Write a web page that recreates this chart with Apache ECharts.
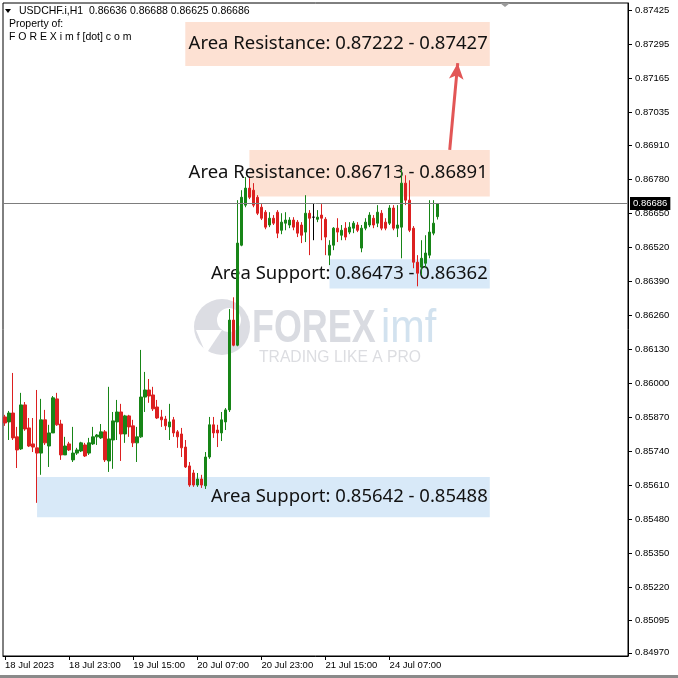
<!DOCTYPE html>
<html>
<head>
<meta charset="utf-8">
<script src="https://cdn.jsdelivr.net/npm/echarts@6/dist/echarts.min.js"></script>
<style>
  html, body { margin: 0; padding: 0; background: #fff; }
  #chart { width: 678px; height: 678px; }
</style>
</head>
<body>
<div id="chart"></div>
<script>
// ---- Data (USDCHF.i, H1) ----
// Each candle: [open, close, low, high]
const candles = [
  [0.85871,0.85848,0.85837,0.85879],[0.85852,0.85886,0.85783,0.85894],[0.85886,0.85791,0.85783,0.86039],
  [0.85795,0.85745,0.85676,0.85833],[0.85749,0.85917,0.85745,0.85963],[0.85917,0.85825,0.85818,0.85928],
  [0.85829,0.85760,0.85756,0.85867],[0.85768,0.85756,0.85737,0.85867],[0.85753,0.85733,0.85543,0.85974],
  [0.85733,0.85860,0.85650,0.85940],[0.85860,0.85772,0.85764,0.85898],[0.85760,0.85810,0.85680,0.85841],
  [0.85810,0.85944,0.85810,0.85951],[0.85940,0.85841,0.85837,0.85963],[0.85844,0.85726,0.85707,0.85860],
  [0.85726,0.85760,0.85726,0.85795],[0.85768,0.85745,0.85741,0.85776],[0.85707,0.85733,0.85699,0.85833],
  [0.85733,0.85745,0.85726,0.85753],[0.85741,0.85772,0.85737,0.85776],[0.85764,0.85722,0.85718,0.85772],
  [0.85733,0.85772,0.85726,0.85791],[0.85768,0.85795,0.85764,0.85833],[0.85795,0.85802,0.85764,0.85806],
  [0.85791,0.85814,0.85787,0.85844],[0.85814,0.85707,0.85699,0.85821],[0.85703,0.85787,0.85661,0.85986],
  [0.85783,0.85856,0.85673,0.85890],[0.85852,0.85890,0.85783,0.85936],[0.85890,0.85806,0.85703,0.85921],
  [0.85806,0.85875,0.85772,0.85879],[0.85875,0.85833,0.85795,0.85879],[0.85837,0.85772,0.85756,0.85860],
  [0.85772,0.85795,0.85699,0.85833],[0.85795,0.85947,0.85791,0.86127],[0.85947,0.85974,0.85890,0.86043],
  [0.85974,0.85951,0.85925,0.86016],[0.85955,0.85902,0.85894,0.85986],[0.85909,0.85867,0.85863,0.85936],
  [0.85871,0.85860,0.85833,0.85898],[0.85863,0.85837,0.85821,0.85875],[0.85833,0.85852,0.85783,0.85921],
  [0.85860,0.85810,0.85795,0.85871],[0.85814,0.85795,0.85753,0.85821],[0.85806,0.85753,0.85718,0.85829],
  [0.85756,0.85680,0.85676,0.85783],[0.85684,0.85611,0.85604,0.85699],[0.85657,0.85611,0.85604,0.85669],
  [0.85611,0.85634,0.85604,0.85657],[0.85634,0.85611,0.85600,0.85650],[0.85608,0.85718,0.85596,0.85737],
  [0.85718,0.85841,0.85711,0.85871],[0.85841,0.85810,0.85791,0.85871],[0.85821,0.85810,0.85756,0.85841],
  [0.85810,0.85860,0.85779,0.85890],[0.85852,0.85898,0.85821,0.85905],[0.85898,0.86241,0.85890,0.86283],
  [0.86241,0.86145,0.86141,0.86328],[0.86145,0.86535,0.86141,0.86699],[0.86527,0.86710,0.86523,0.86737],
  [0.86680,0.86745,0.86672,0.86787],[0.86745,0.86710,0.86703,0.86783],[0.86737,0.86680,0.86672,0.86764],
  [0.86710,0.86649,0.86642,0.86718],[0.86672,0.86630,0.86623,0.86684],[0.86653,0.86596,0.86588,0.86661],
  [0.86604,0.86630,0.86596,0.86653],[0.86630,0.86611,0.86604,0.86642],[0.86653,0.86573,0.86554,0.86661],
  [0.86584,0.86615,0.86569,0.86649],[0.86611,0.86623,0.86584,0.86653],[0.86604,0.86623,0.86592,0.86634],
  [0.86623,0.86596,0.86584,0.86634],[0.86615,0.86573,0.86558,0.86623],[0.86604,0.86565,0.86535,0.86615],
  [0.86577,0.86649,0.86539,0.86718],[0.86649,0.86630,0.86489,0.86661],[0.86634,0.86634,0.86546,0.86688],
  [0.86626,0.86634,0.86615,0.86661],[0.86642,0.86630,0.86546,0.86684],[0.86626,0.86558,0.86489,0.86634],
  [0.86489,0.86527,0.86451,0.86546],[0.86527,0.86592,0.86508,0.86596],[0.86592,0.86577,0.86539,0.86630],
  [0.86565,0.86584,0.86546,0.86604],[0.86592,0.86558,0.86546,0.86615],[0.86577,0.86596,0.86569,0.86615],
  [0.86592,0.86611,0.86573,0.86619],[0.86604,0.86584,0.86577,0.86615],[0.86516,0.86592,0.86500,0.86604],
  [0.86592,0.86615,0.86584,0.86630],[0.86604,0.86642,0.86596,0.86653],[0.86630,0.86604,0.86592,0.86642],
  [0.86611,0.86653,0.86596,0.86680],[0.86649,0.86592,0.86584,0.86661],[0.86615,0.86592,0.86584,0.86630],
  [0.86611,0.86669,0.86604,0.86680],[0.86669,0.86592,0.86584,0.86680],[0.86592,0.86604,0.86558,0.86680],
  [0.86596,0.86764,0.86477,0.86814],[0.86764,0.86699,0.86680,0.86794],[0.86699,0.86584,0.86577,0.86775],
  [0.86592,0.86462,0.86439,0.86600],[0.86462,0.86420,0.86370,0.86489],[0.86443,0.86477,0.86412,0.86546],
  [0.86458,0.86497,0.86439,0.86565],[0.86489,0.86577,0.86477,0.86699],[0.86573,0.86611,0.86565,0.86699],
  [0.86636,0.86686,0.86625,0.86688]
];

// Price-axis tick labels shown on the right
const priceTicks = [0.87425,0.87295,0.87165,0.87035,0.86910,0.86780,0.86650,0.86520,0.86390,0.86260,
                    0.86130,0.86000,0.85870,0.85740,0.85610,0.85480,0.85350,0.85220,0.85095,0.84970];
// Time-axis labels (every 16 bars)
const timeLabels = ['18 Jul 2023','18 Jul 23:00','19 Jul 15:00','20 Jul 07:00','20 Jul 23:00','21 Jul 15:00','24 Jul 07:00'];
const currentPrice = 0.86686;
const headerText = 'USDCHF.i,H1  0.86636 0.86688 0.86625 0.86686';

// Annotation zones
const zoneLabels = ['Area Resistance: 0.87222 - 0.87427','Area Resistance: 0.86713 - 0.86891',
                    'Area Support: 0.86473 - 0.86362','Area Support: 0.85642 - 0.85488'];
const zoneUpper = [0.87379, 0.86891, 0.86473, 0.85642];
const zoneLower = [0.87211, 0.86713, 0.86362, 0.85488];
const zoneStart = [45, 61, 81, 8];
const zoneEnd = [121, 121, 121, 121];
const zoneKind = ['res','res','sup','sup'];
// Arrow from the near resistance up to the far one
const arrowFrom = [110.5, 0.86891];
const arrowTo = [112.5, 0.87222];

// ---- hourly categories (weekdays only), plus empty future slots ----
const totalSlots = 156;
const categories = [];
(function () {
  let t = Date.UTC(2023, 6, 18, 7);
  const pad = n => (n < 10 ? '0' : '') + n;
  while (categories.length < totalSlots) {
    const d = new Date(t);
    const wd = d.getUTCDay();
    if (wd !== 0 && wd !== 6) {
      categories.push(d.getUTCFullYear() + '-' + pad(d.getUTCMonth() + 1) + '-' + pad(d.getUTCDate()) + ' ' + pad(d.getUTCHours()) + ':00');
    }
    t += 3600000;
  }
})();

const UP = '#178517', DOWN = '#dc2020';
const RES_FILL = '#fde1d3', SUP_FILL = '#d8e9f8';
const FONT = 'Liberation Sans';
const LABEL_FONT = 'Noto Sans';

const markAreaData = zoneLabels.map((lab, k) => [
  { xAxis: zoneStart[k], yAxis: zoneUpper[k],
    itemStyle: { color: zoneKind[k] === 'res' ? RES_FILL : SUP_FILL },
    label: { show: true, formatter: lab } },
  { xAxis: zoneEnd[k], yAxis: zoneLower[k] }
]);

const chart = echarts.init(document.getElementById('chart'), null, { renderer: 'canvas' });
chart.setOption({
  animation: false,
  backgroundColor: '#fff',
  grid: { left: 3, right: 50, top: 3, bottom: 22, show: true, borderColor: '#000', borderWidth: 1, backgroundColor: '#fff', z: 0 },
  xAxis: {
    type: 'category',
    data: categories,
    boundaryGap: true,
    axisLine: { show: true, lineStyle: { color: '#000', width: 1 } },
    axisTick: { show: true, alignWithLabel: true, length: 4, lineStyle: { color: '#000' },
      interval: (i) => i % 16 === 0 && i / 16 < timeLabels.length },
    axisLabel: {
      show: true, color: '#000', fontFamily: FONT, fontSize: 9.5, align: 'left', margin: 4,
      interval: (i) => i % 16 === 0 && i / 16 < timeLabels.length,
      formatter: (v, i) => timeLabels[i / 16] || ''
    },
    splitLine: { show: false }
  },
  yAxis: {
    type: 'value',
    position: 'right',
    min: 0.84958,
    max: 0.87452,
    scale: true,
    axisLine: { show: true, lineStyle: { color: '#000', width: 1 } },
    axisTick: { show: true, length: 4, customValues: priceTicks, lineStyle: { color: '#000' } },
    axisLabel: { show: true, customValues: priceTicks, color: '#000', fontFamily: FONT, fontSize: 9.5, margin: 7,
      formatter: v => v.toFixed(5) },
    splitLine: { show: false }
  },
  graphic: [
    // header
    { type: 'polygon', z: 10, shape: { points: [[5, 9], [11, 9], [8, 13]] }, style: { fill: '#000' } },
    { type: 'text', z: 10, left: 19, top: 6, style: { text: headerText, font: '10.5px ' + FONT, fill: '#000' } },
    { type: 'text', z: 10, left: 9, top: 19, style: { text: 'Property of:', font: '10.5px ' + FONT, fill: '#000' } },
    { type: 'text', z: 10, left: 9, top: 32, style: { text: 'F O R E X i m f [dot] c o m', font: '10.5px ' + FONT, fill: '#000' } },
    // small top marker
    { type: 'polygon', z: 10, shape: { points: [[500, 3], [510, 3], [505, 7]] }, style: { fill: '#9a9a9a' } },
    // watermark
    { type: 'circle', z: 1, shape: { cx: 222, cy: 327, r: 28 }, style: { fill: '#dcdde3' } },
    { type: 'circle', z: 1, shape: { cx: 229, cy: 320, r: 12 }, style: { fill: '#fff' } },
    { type: 'polygon', z: 1, shape: { points: [[196, 330], [222, 330], [206, 354]] }, style: { fill: '#fff' } },
    { type: 'text', z: 1, x: 252, y: 306, scaleX: 0.78, style: { text: 'FOREX', font: 'bold 46px ' + FONT, fill: '#d9dbe1' } },
    { type: 'text', z: 1, x: 381, y: 306, scaleX: 0.9, style: { text: 'imf', font: '46px ' + FONT, fill: '#d2e2ef' } },
    { type: 'text', z: 1, x: 259, y: 349, scaleX: 0.95, style: { text: 'TRADING LIKE A PRO', font: '16.5px ' + FONT, fill: '#dcdde1' } },
    // bottom frame strip
    { type: 'rect', z: 10, shape: { x: 0, y: 675, width: 678, height: 3 }, style: { fill: '#8a8a8a' } }
  ],
  series: [{
    type: 'candlestick',
    data: candles,
    barWidth: 3,
    z: 3,
    itemStyle: { color: UP, color0: DOWN, borderColor: UP, borderColor0: DOWN, borderColorDoji: '#000', borderWidth: 1 },
    markArea: {
      silent: true,
      z: 1,
      label: { position: 'insideRight', distance: 2, color: '#111', fontFamily: LABEL_FONT, fontSize: 18.5 },
      data: markAreaData
    },
    markLine: {
      silent: true,
      precision: 5,
      symbol: ['none', 'arrow'],
      symbolSize: [11, 16],
      label: { show: false },
      lineStyle: { color: '#e25656', width: 3, type: 'solid' },
      data: [ [ { coord: arrowFrom }, { coord: arrowTo } ] ]
    }
  }, {
    type: 'line',
    data: [],
    z: 2,
    markLine: {
      silent: true,
      precision: 5,
      symbol: ['none', 'none'],
      lineStyle: { color: '#7d7d7d', width: 1, type: 'solid' },
      label: { show: true, position: 'end', distance: 2, formatter: p => Number(p.value).toFixed(5),
        backgroundColor: '#000', color: '#fff', fontFamily: FONT, fontSize: 9.5, padding: [2, 3, 1, 3] },
      data: [ { yAxis: currentPrice } ]
    }
  }]
});
</script>
</body>
</html>
